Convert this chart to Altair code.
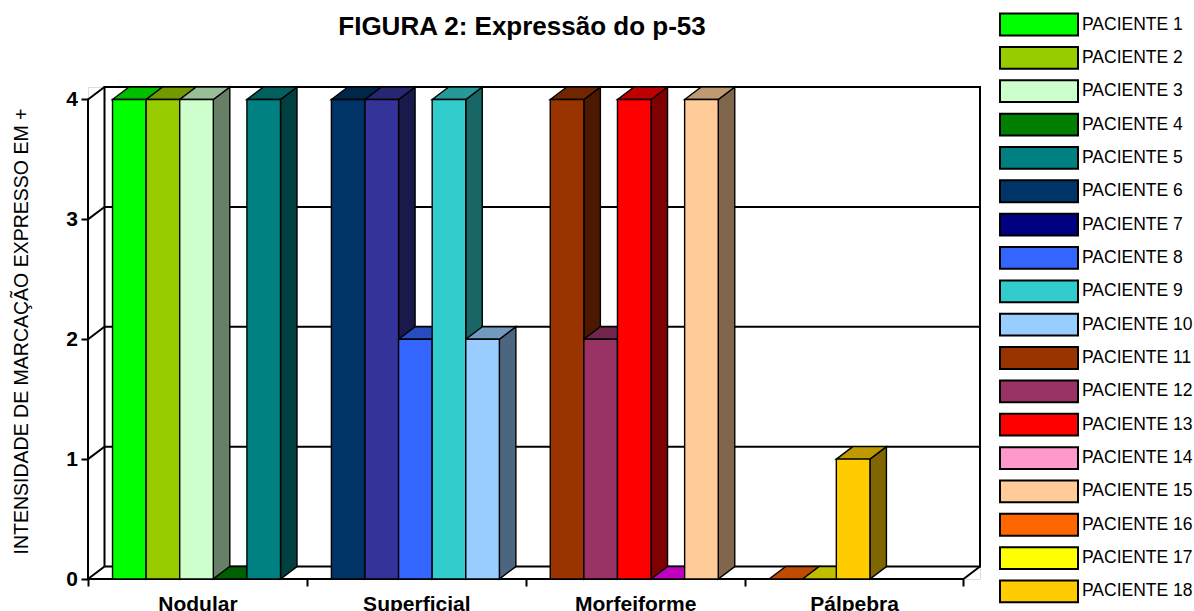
import altair as alt
import pandas as pd

# Chart content
title_text = "FIGURA 2: Expressão do p-53"
y_title = "INTENSIDADE DE MARCAÇÃO EXPRESSO EM +"
categories = ["Nodular", "Superficial", "Morfeiforme", "Pálpebra"]
y_ticks = [0, 1, 2, 3, 4]

patients = [f"PACIENTE {i}" for i in range(1, 19)]
legend_colors = ["#00FF00", "#99CC00", "#CCFFCC", "#008000", "#008080", "#003366",
                 "#000080", "#3366FF", "#33CCCC", "#99CCFF", "#993300", "#993366",
                 "#FF0000", "#FF99CC", "#FFCC99", "#FF6600", "#FFFF00", "#FFCC00"]

# Bars per category, in slot order
bar_values = [
    [4, 4, 4, 0, 4],
    [4, 4, 2, 4, 2],
    [4, 2, 4, 0, 4],
    [0, 0, 1],
]
bar_colors = [
    ["#00FF00", "#99CC00", "#CCFFCC", "#008000", "#008080"],
    ["#003366", "#333399", "#3366FF", "#33CCCC", "#99CCFF"],
    ["#993300", "#993366", "#FF0000", "#FF00FF", "#FFCC99"],
    ["#FF6600", "#FFFF00", "#FFCC00"],
]

# Oblique projection, in data units of each axis
DEPTH_X = 0.0754
DEPTH_Y = 0.104
SLOT = 0.1535
MARGIN = 0.112
X_END = len(categories)
Y_END = 4


def shade(color, factor):
    r, g, b = (int(color[i:i + 2], 16) for i in (1, 3, 5))
    return "#{:02X}{:02X}{:02X}".format(int(r * factor), int(g * factor), int(b * factor))


front, side, top = [], [], []
bar_id = 0
for c, (vals, cols) in enumerate(zip(bar_values, bar_colors)):
    for s, (v, col) in enumerate(zip(vals, cols)):
        left = c + MARGIN + s * SLOT
        right = left + SLOT
        if v > 0:
            front.append(dict(x=left, x2=right, y=0, y2=v, fill=col))
            side.append(dict(id=bar_id, x=right, y=v, y2=0, fill=shade(col, 0.5)))
            side.append(dict(id=bar_id, x=right + DEPTH_X, y=v + DEPTH_Y, y2=DEPTH_Y, fill=shade(col, 0.5)))
        top.append(dict(id=bar_id, y=v, x=left, x2=right, fill=shade(col, 0.75)))
        top.append(dict(id=bar_id, y=v + DEPTH_Y, x=left + DEPTH_X, x2=right + DEPTH_X, fill=shade(col, 0.75)))
        bar_id += 1

# Wall, floor and gridlines as polylines
paths = [
    [(DEPTH_X, DEPTH_Y), (X_END + DEPTH_X, DEPTH_Y), (X_END + DEPTH_X, Y_END + DEPTH_Y),
     (DEPTH_X, Y_END + DEPTH_Y), (DEPTH_X, DEPTH_Y)],
    [(0, 0), (0, Y_END), (DEPTH_X, Y_END + DEPTH_Y)],
    [(DEPTH_X, DEPTH_Y), (0, 0), (X_END, 0), (X_END + DEPTH_X, DEPTH_Y)],
]
for v in y_ticks[1:-1]:
    paths.append([(0, v), (DEPTH_X, v + DEPTH_Y), (X_END + DEPTH_X, v + DEPTH_Y)])
frame = pd.DataFrame(
    [dict(path=i, step=j, x=p[0], y=p[1]) for i, path in enumerate(paths) for j, p in enumerate(path)]
)

x_scale = alt.Scale(domain=[0, X_END + DEPTH_X], nice=False, zero=False)
y_scale = alt.Scale(domain=[0, Y_END + DEPTH_Y], nice=False, zero=False)

frame_layer = alt.Chart(frame).mark_line(color="black", strokeWidth=2).encode(
    x=alt.X("x:Q", scale=x_scale,
            axis=alt.Axis(orient="bottom", values=list(range(X_END + 1)), labels=False, domain=False,
                          grid=False, tickSize=7, tickWidth=2, tickColor="black", title=None)),
    y=alt.Y("y:Q", scale=y_scale,
            axis=alt.Axis(orient="left", values=y_ticks, format="d", domain=False, grid=False, tickSize=7,
                          tickWidth=2, tickColor="black", labelFont="Liberation Sans", labelFontSize=21,
                          labelFontWeight="bold", labelColor="black", labelPadding=3.5,
                          title=y_title, titleFont="Liberation Sans", titleFontSize=19.5,
                          titleFontWeight="normal", titleColor="black", titleX=-67, titleY=244,
                          titleAlign="center", titleBaseline="middle")),
    detail="path:N",
    order="step:O",
)

# Category names sit under the middle of each band
names = pd.DataFrame(dict(x=[i + 0.5 for i in range(len(categories))], name=categories))
label_expr = "{}[floor(datum.value)]".format(str(categories))
name_layer = alt.Chart(names).mark_point(opacity=0, size=0).encode(
    x=alt.X("x:Q", scale=x_scale,
            axis=alt.Axis(orient="bottom", values=names["x"].tolist(), labelExpr=label_expr, domain=False,
                          grid=False, ticks=False, labelFont="Liberation Sans", labelFontSize=21,
                          labelFontWeight="bold", labelColor="black", labelPadding=14, title=None)),
    y=alt.Y("y0:Q", scale=y_scale, axis=None),
).transform_calculate(y0="0")

side_layer = alt.Chart(pd.DataFrame(side)).mark_area(stroke="black", strokeWidth=1.4).encode(
    x=alt.X("x:Q", scale=x_scale, axis=None),
    y=alt.Y("y:Q", scale=y_scale, axis=None),
    y2="y2:Q",
    fill=alt.Fill("fill:N", scale=None),
    detail="id:N",
)

top_layer = alt.Chart(pd.DataFrame(top)).mark_area(orient="horizontal", stroke="black", strokeWidth=1.4).encode(
    y=alt.Y("y:Q", scale=y_scale, axis=None),
    x=alt.X("x:Q", scale=x_scale, axis=None),
    x2="x2:Q",
    fill=alt.Fill("fill:N", scale=None),
    detail="id:N",
)

front_layer = alt.Chart(pd.DataFrame(front)).mark_rect(stroke="black", strokeWidth=1.4).encode(
    x=alt.X("x:Q", scale=x_scale, axis=None),
    x2="x2:Q",
    y=alt.Y("y:Q", scale=y_scale, axis=None),
    y2="y2:Q",
    fill=alt.Fill("fill:N", scale=None),
)

# Zero-size marks that only carry the patient key
legend_layer = alt.Chart(pd.DataFrame(dict(patient=patients))).mark_point(
    filled=True, size=0, opacity=1
).encode(
    x=alt.X("x0:Q", scale=x_scale, axis=None),
    y=alt.Y("x0:Q", scale=y_scale, axis=None),
    color=alt.Color(
        "patient:N",
        scale=alt.Scale(domain=patients, range=legend_colors),
        legend=alt.Legend(
            orient="none", legendX=911, legendY=-79, title=None,
            symbolType="M-1,-0.28H1V0.28H-1Z", symbolSize=6084, symbolStrokeColor="black",
            symbolStrokeWidth=2, symbolOpacity=1, clipHeight=33, rowPadding=0.35, padding=0,
            labelFont="Liberation Sans", labelFontSize=17.5, labelColor="black", labelOffset=3,
            labelLimit=200, values=patients,
        ),
    ),
).transform_calculate(x0="0")

chart = alt.layer(frame_layer, name_layer, side_layer, top_layer, front_layer, legend_layer).resolve_axis(
    x="independent", y="independent"
).properties(
    width=892,
    height=492,
    padding={"left": 88, "top": 87, "right": 214, "bottom": 32},
    autosize=alt.AutoSizeParams(type="none"),
    title=alt.TitleParams(title_text, font="Liberation Sans", fontSize=26, fontWeight="bold", color="black",
                          anchor="middle", dx=-12, offset=-32),
).configure_view(stroke=None).configure(background="white")

chart.save("out.html", embed_options={"renderer": "svg", "actions": False})
